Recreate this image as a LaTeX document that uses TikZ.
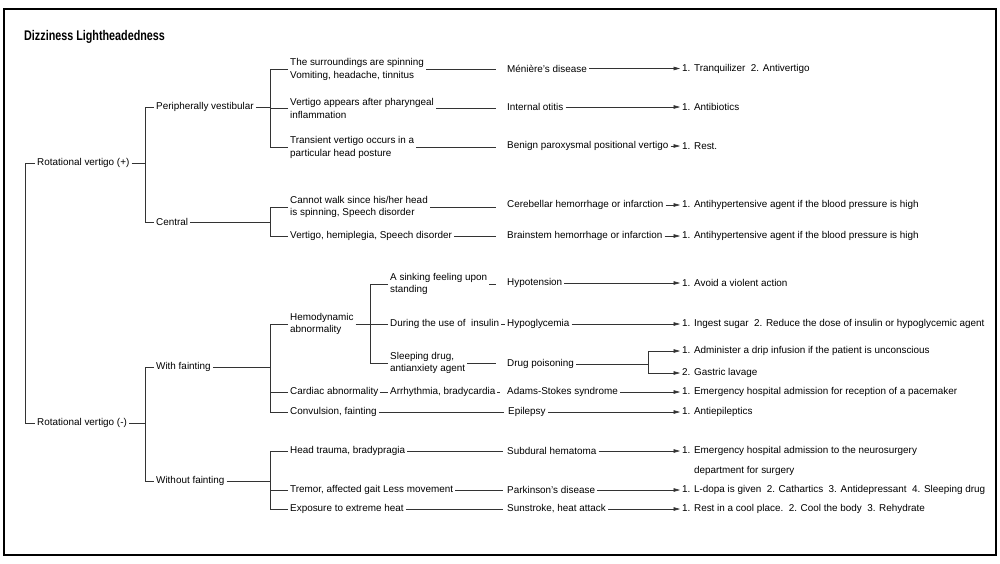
\documentclass[tikz,border=0pt]{standalone}
\usepackage{fontspec}
\setmainfont{Liberation Sans}
\usepackage{graphicx}
\usetikzlibrary{arrows.meta}
\begin{document}
\begin{tikzpicture}[x=1pt,y=-1pt,
  txt/.style={anchor=west,inner xsep=2pt,inner ysep=1pt,font=\fontsize{9.9}{12.8}\selectfont,align=left},
  ln/.style={line width=0.6pt,draw=black!80},
  todis/.style={ln,shorten >=9pt},
  tonear/.style={ln,shorten >=2pt},
  arr/.style={ln,-{Triangle[length=6.5pt,width=3.6pt]}},
  frame/.style={line width=1.5pt,draw=black}
]
\useasboundingbox (0,0) rectangle (1000,563);
\draw[frame] (4,9) rectangle (996,555);

\node[anchor=west,inner sep=0pt] (title) at (24,37) {\fontsize{14}{16}\selectfont\bfseries\scalebox{0.77}[1]{Dizziness Lightheadedness}};

% level 0/1
\node[txt] (a) at (35,163) {Rotational vertigo (+)};
\node[txt] (b) at (35,423) {Rotational vertigo (-)};
\node[txt] (pv) at (154,107) {Peripherally vestibular};
\node[txt] (ce) at (154,222) {Central};
\node[txt] (wf) at (154,367) {With fainting};
\node[txt] (wof) at (154,481) {Without fainting};

% level 2
\node[txt] (c1) at (288,69.5) {The surroundings are spinning\\Vomiting, headache, tinnitus};
\node[txt] (c2) at (288,108.5) {Vertigo appears after pharyngeal\\inflammation};
\node[txt] (c3) at (288,147.5) {Transient vertigo occurs in a\\particular head posture};
\node[txt] (c4) at (288,207) {Cannot walk since his/her head\\is spinning, Speech disorder};
\node[txt] (c5) at (288,236) {Vertigo, hemiplegia, Speech disorder};
\node[txt] (h) at (288,324) {Hemodynamic\\abnormality};
\node[txt] (ca) at (288,392) {Cardiac abnormality};
\node[txt] (co) at (288,412) {Convulsion, fainting};
\node[txt] (ht) at (288,451) {Head trauma, bradypragia};
\node[txt] (tr) at (288,490) {Tremor, affected gait Less movement};
\node[txt] (ex) at (288,509) {Exposure to extreme heat};

% level 3
\node[txt] (s1) at (388,284) {A sinking feeling upon\\standing};
\node[txt] (s2) at (388,324) {During the use of\ \ insulin};
\node[txt] (s3) at (388,363) {Sleeping drug,\\antianxiety agent};
\node[txt] (ar) at (388,392) {Arrhythmia, bradycardia};

% diseases
\node[txt] (d1) at (505,68.5) {Ménière's disease};
\node[txt] (d2) at (505,107) {Internal otitis};
\node[txt] (d3) at (505,146) {Benign paroxysmal positional vertigo};
\node[txt] (d4) at (505,205) {Cerebellar hemorrhage or infarction};
\node[txt] (d5) at (505,236) {Brainstem hemorrhage or infarction};
\node[txt] (d6) at (505,283) {Hypotension};
\node[txt] (d7) at (505,324) {Hypoglycemia};
\node[txt] (d8) at (505,364) {Drug poisoning};
\node[txt] (d9) at (505,392) {Adams-Stokes syndrome};
\node[txt] (d10) at (506,412) {Epilepsy};
\node[txt] (d11) at (505,451) {Subdural hematoma};
\node[txt] (d12) at (505,490) {Parkinson's disease};
\node[txt] (d13) at (505,509) {Sunstroke, heat attack};

% treatments
\node[txt] (t1) at (680,68.5) {1. Tranquilizer\ \ 2. Antivertigo};
\node[txt] (t2) at (680,107) {1. Antibiotics};
\node[txt] (t3) at (680,146) {1. Rest.};
\node[txt] (t4) at (680,205) {1. Antihypertensive agent if the blood pressure is high};
\node[txt] (t5) at (680,236) {1. Antihypertensive agent if the blood pressure is high};
\node[txt] (t6) at (680,283) {1. Avoid a violent action};
\node[txt] (t7) at (680,324) {1. Ingest sugar\ \ 2. Reduce the dose of insulin or hypoglycemic agent};
\node[txt] (t8a) at (680,351) {1. Administer a drip infusion if the patient is unconscious};
\node[txt] (t8b) at (680,373) {2. Gastric lavage};
\node[txt] (t9) at (680,392) {1. Emergency hospital admission for reception of a pacemaker};
\node[txt] (t10) at (680,412) {1. Antiepileptics};
\node[txt,anchor=north west] (t11) at (680,445.3) {1. Emergency hospital admission to the neurosurgery\\[7.2pt]\phantom{1. }department for surgery};
\node[txt] (t12) at (680,490) {1. L-dopa is given\ \ 2. Cathartics\ \ 3. Antidepressant\ \ 4. Sleeping drug};
\node[txt] (t13) at (680,509) {1. Rest in a cool place.\ \ 2. Cool the body\ \ 3. Rehydrate};

% junction coordinates
\coordinate (r0) at (25,293);
\coordinate (ja) at (145,163);
\coordinate (jb) at (145,423);
\coordinate (jpv) at (270,107);
\coordinate (jce) at (270,222);
\coordinate (jwf) at (270,367);
\coordinate (jwof) at (270,481);
\coordinate (jh) at (370,324);
\coordinate (jd8) at (648,364);

% brackets
\draw[ln] (a.west) -- (a.west -| r0) -- (b.west -| r0) -- (b.west);
\draw[ln] (a.east) -- (ja);
\draw[ln] (pv.west) -- (pv.west -| ja) -- (ce.west -| ja) -- (ce.west);
\draw[ln] (b.east) -- (jb);
\draw[ln] (wf.west) -- (wf.west -| jb) -- (wof.west -| jb) -- (wof.west);

\draw[ln] (pv.east) -- (jpv);
\draw[ln] (c1.west) -- (c1.west -| jpv) -- (c3.west -| jpv) -- (c3.west);
\draw[ln] (c2.west) -- (c2.west -| jpv);
\draw[ln] (ce.east) -- (jce);
\draw[ln] (c4.west) -- (c4.west -| jce) -- (c5.west -| jce) -- (c5.west);
\draw[ln] (wf.east) -- (jwf);
\draw[ln] (h.west) -- (h.west -| jwf) -- (co.west -| jwf) -- (co.west);
\draw[ln] (ca.west) -- (ca.west -| jwf);
\draw[ln] (wof.east) -- (jwof);
\draw[ln] (ht.west) -- (ht.west -| jwof) -- (ex.west -| jwof) -- (ex.west);
\draw[ln] (tr.west) -- (tr.west -| jwof);
\draw[ln] (h.east) -- (jh);
\draw[ln] (s1.west) -- (s1.west -| jh) -- (s3.west -| jh) -- (s3.west);
\draw[ln] (s2.west) -- (s2.west -| jh);

% to diseases
\draw[todis] (c1.east) -- (c1.east -| d1.west);
\draw[todis] (c2.east) -- (c2.east -| d2.west);
\draw[todis] (c3.east) -- (c3.east -| d3.west);
\draw[todis] (c4.east) -- (c4.east -| d4.west);
\draw[todis] (c5.east) -- (c5.east -| d5.west);
\draw[todis] (s1.east) -- (s1.east -| d6.west);
\draw[ln] (s2.east) -- (d7.west);
\draw[todis] (s3.east) -- (s3.east -| d8.west);
\draw[ln] (ca.east) -- (ar.west);
\draw[ln,shorten >=5pt] (ar.east) -- (d9.west);
\draw[tonear] (co.east) -- (d10.west);
\draw[tonear] (ht.east) -- (d11.west);
\draw[tonear] (tr.east) -- (d12.west);
\draw[tonear] (ex.east) -- (d13.west);

% to treatments
\draw[arr] (d1.east) -- (d1.east -| t1.west);
\draw[arr] (d2.east) -- (d2.east -| t2.west);
\draw[arr] (d3.east) -- (d3.east -| t3.west);
\draw[arr] (d4.east) -- (d4.east -| t4.west);
\draw[arr] (d5.east) -- (d5.east -| t5.west);
\draw[arr] (d6.east) -- (d6.east -| t6.west);
\draw[arr] (d7.east) -- (d7.east -| t7.west);
\draw[ln] (d8.east) -- (jd8);
\draw[ln] (t8a.west -| jd8) -- (t8b.west -| jd8);
\draw[arr] (t8a.west -| jd8) -- (t8a.west);
\draw[arr] (t8b.west -| jd8) -- (t8b.west);
\draw[arr] (d9.east) -- (d9.east -| t9.west);
\draw[arr] (d10.east) -- (d10.east -| t10.west);
\draw[arr] (d11.east) -- (d11.east -| t11.west);
\draw[arr] (d12.east) -- (d12.east -| t12.west);
\draw[arr] (d13.east) -- (d13.east -| t13.west);
\end{tikzpicture}
\end{document}
